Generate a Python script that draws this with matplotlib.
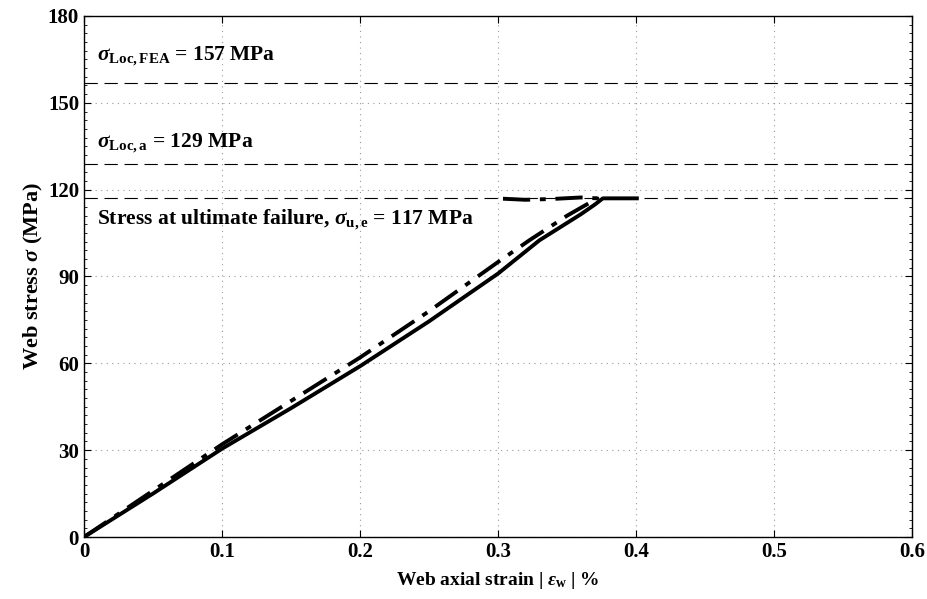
import matplotlib.pyplot as plt
from matplotlib.ticker import MultipleLocator

plt.rcParams["font.family"] = ["Liberation Serif", "DejaVu Serif"]
plt.rcParams["font.weight"] = "bold"
plt.rcParams["mathtext.fontset"] = "custom"
plt.rcParams["mathtext.rm"] = "Liberation Serif:bold"
plt.rcParams["mathtext.it"] = "Liberation Serif:italic:bold"
plt.rcParams["mathtext.bf"] = "Liberation Serif:bold"

# Measured response (solid) and analytical/second gauge (dash-dot)
strain_a = [0.0, 0.05, 0.1, 0.15, 0.2, 0.25, 0.3, 0.33, 0.35, 0.36, 0.37, 0.376, 0.39, 0.402]
stress_a = [0.0, 15.0, 30.5, 44.5, 59.0, 74.5, 91.0, 102.5, 108.5, 111.5, 114.8, 117.0, 117.0, 117.0]

strain_b = [0.0, 0.05, 0.1, 0.15, 0.2, 0.25, 0.3, 0.323, 0.35, 0.372, 0.36, 0.34, 0.32, 0.298]
stress_b = [0.0, 16.0, 32.0, 47.0, 62.0, 78.0, 95.0, 102.6, 111.0, 117.0, 117.3, 116.8, 116.5, 117.0]

# Reference stress levels (MPa)
ref_levels = [157, 129, 117]
ref_labels = [
    r"$\sigma_{\mathrm{Loc,FEA}}$ = 157 MPa",
    r"$\sigma_{\mathrm{Loc,a}}$ = 129 MPa",
    r"Stress at ultimate failure, $\sigma_{\mathrm{u,e}}$ = 117 MPa",
]
label_y = [166, 136, 109.5]

fig = plt.figure(figsize=(9.28, 5.99), dpi=100)
ax = fig.add_axes([0.0905, 0.1035, 0.8923, 0.8698])

for lvl in ref_levels:
    ax.axhline(lvl, color="black", lw=0.8, ls=(0, (12, 6)), zorder=2)

ax.plot(strain_a, stress_a, color="black", lw=2.8, solid_capstyle="butt", zorder=3)
ax.plot(strain_b, stress_b, color="black", lw=2.8, ls=(0, (7, 2.5, 1.5, 2.5)), zorder=3)

for txt, y in zip(ref_labels, label_y):
    ax.text(0.0095, y, txt, fontsize=15.5, fontweight="bold", va="center", ha="left")

ax.set_xlim(0, 0.6)
ax.set_ylim(0, 180)
ax.set_xticks([0, 0.1, 0.2, 0.3, 0.4, 0.5, 0.6])
ax.set_xticklabels(["0", "0.1", "0.2", "0.3", "0.4", "0.5", "0.6"])
ax.yaxis.set_major_locator(MultipleLocator(30))
ax.yaxis.set_minor_locator(MultipleLocator(3))

ax.grid(True, which="major", color="#999999", ls=(0, (1, 4)), lw=0.8)
ax.tick_params(which="both", direction="in", top=True, right=True, labelsize=15)
ax.tick_params(which="major", length=5)
ax.tick_params(which="minor", length=2.5)
for lab in ax.get_xticklabels() + ax.get_yticklabels():
    lab.set_fontweight("bold")
for sp in ax.spines.values():
    sp.set_linewidth(1.0)

ax.set_xlabel(r"Web axial strain | $\varepsilon_{\mathrm{w}}$ | %", fontsize=14, fontweight="bold", labelpad=6)
ax.set_ylabel(r"Web stress $\sigma$ (MPa)", fontsize=16, fontweight="bold", labelpad=2)

fig.savefig("out.png", dpi=100)
